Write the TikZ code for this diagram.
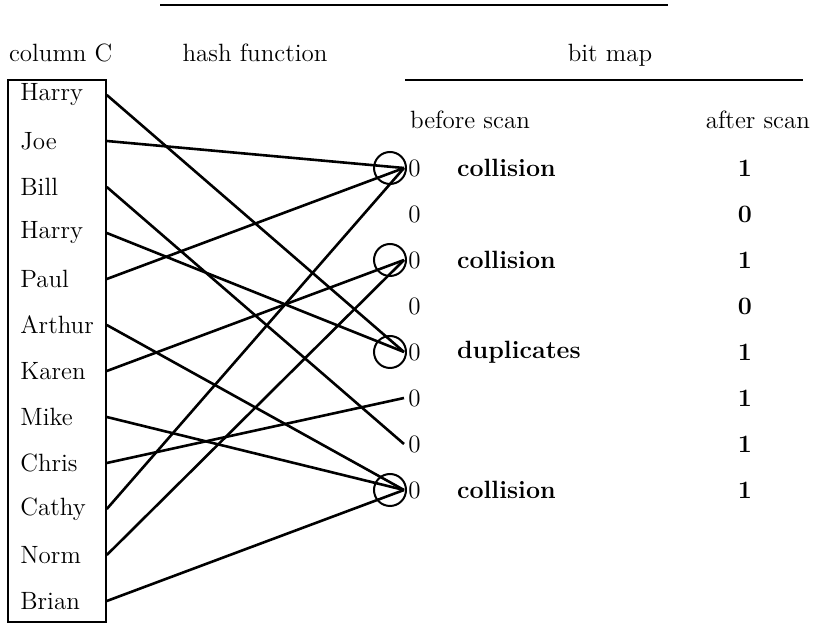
\documentclass[tikz,border=0pt]{standalone}
\usepackage{tikz}

\begin{document}
\begin{tikzpicture}[x=0.5pt,y=-0.5pt,
        font=\fontsize{12.5}{15}\selectfont,
        entry/.style={anchor=west, text width=37pt, inner xsep=6pt, inner ysep=0pt, align=left},
        bitval/.style={anchor=west, inner xsep=2pt, inner ysep=0pt},
        hashline/.style={line width=1.3pt}]
        \useasboundingbox (0,0) rectangle (815,624);

        % Row spacing
        \def\rowgap{46}

        % Headings
        \draw[line width=1pt] (160,5) -- (668,5);
        \node[anchor=west] (colhead) at (2,53) {column C};
        \node (hashhead) at (255,53) {hash function};
        \node (maphead) at (610,55) {bit map};
        \draw[line width=1pt] (405,80) -- (803,80);
        \node[anchor=west] (beforehead) at (403,120) {before scan};
        \node[anchor=east] (afterhead) at (817,120) {after scan};

        % Column C
        \draw[line width=1pt] (8,80) rectangle (106,622);
        \foreach \i/\name in {1/Harry, 2/Joe, 3/Bill, 4/Harry, 5/Paul, 6/Arthur,
            7/Karen, 8/Mike, 9/Chris, 10/Cathy, 11/Norm, 12/Brian}
        {
            \node[entry] (n\i) at (8,95+\rowgap*\i-\rowgap) {\name};
        }

        % Bit map
        \foreach \j/\after/\note in {0/1/collision, 1/0/, 2/1/collision, 3/0/,
            4/1/duplicates, 5/1/, 6/1/, 7/1/collision}
        {
            \node[bitval] (b\j) at (404,168+\rowgap*\j) {0};
            \node[anchor=west] (note\j) at (450,168+\rowgap*\j) {\textbf{\note}};
            \node (a\j) at (745,168+\rowgap*\j) {\textbf{\after}};
        }

        % Hash function
        \foreach \i/\j in {1/4, 2/0, 3/6, 4/4, 5/0, 6/7, 7/2, 8/7, 9/5, 10/0, 11/2, 12/7}
            \draw[hashline] (n\i.east) -- (b\j.west);

        % Collisions
        \foreach \j in {0,2,4,7}
            \draw[line width=1pt] ([xshift=-7pt]b\j.west) circle (8pt);
\end{tikzpicture}
\end{document}
